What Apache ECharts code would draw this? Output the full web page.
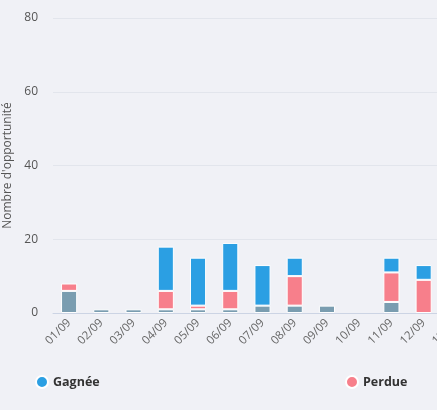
<!DOCTYPE html>
<html>
<head>
<meta charset="utf-8">
<script src="https://cdn.jsdelivr.net/npm/echarts@6/dist/echarts.min.js"></script>
<style>
html,body{margin:0;padding:0;background:#f0f1f6;}
#main{width:437px;height:410px;}
</style>
</head>
<body>
<div id="main"></div>
<script>
var days=["01/09","02/09","03/09","04/09","05/09","06/09","07/09","08/09","09/09","10/09","11/09","12/09","13/09"];
var enCours=[6,1,1,1,1,1,2,2,2,0,3,0,0];
var perdue=[2,0,0,5,1,5,0,8,0,0,8,9,0];
var gagnee=[0,0,0,12,13,13,11,5,0,0,4,4,0];

// hide empty segments so no stroke shows
function clean(arr){
    return arr.map(function(v){return v>0?v:null;});
}

var myChart=echarts.init(document.getElementById('main'));

var font="'Open Sans', 'Noto Sans', sans-serif";

var option={
    backgroundColor:"#f0f1f6",
    textStyle:{fontFamily:font},
    grid:{left:53,top:18,bottom:97,width:419,outerBoundsMode:"none",containLabel:false},
    legend:[{
        data:["Gagnée"],
        left:30,top:370,
        icon:"circle",itemWidth:12,itemHeight:12,
        textStyle:{color:"#333",fontWeight:"bold",fontSize:12.5,fontFamily:font}
    },{
        data:["Perdue"],
        left:340,top:370,
        icon:"circle",itemWidth:12,itemHeight:12,
        textStyle:{color:"#333",fontWeight:"bold",fontSize:12.5,fontFamily:font}
    }],
    xAxis:{
        type:"category",
        data:days,
        axisLine:{lineStyle:{color:"#ccd4e4"}},
        axisTick:{length:6,lineStyle:{color:"#ccd4e4"}},
        axisLabel:{rotate:45,color:"#666",fontSize:11.5,interval:0,margin:8}
    },
    yAxis:{
        type:"value",
        min:0,max:80,interval:20,
        name:"Nombre d'opportunité",
        nameLocation:"middle",
        nameGap:34,
        nameTextStyle:{color:"#555",fontSize:12},
        axisLine:{show:false},
        axisTick:{show:false},
        axisLabel:{color:"#555",fontSize:12,margin:15},
        splitLine:{lineStyle:{color:"#e2e5ec"}}
    },
    series:[{
        name:"En cours",
        type:"bar",
        stack:"total",
        barWidth:"50%",
        data:clean(enCours),
        itemStyle:{color:"#7a9db0",borderColor:"#fff",borderWidth:1}
    },{
        name:"Perdue",
        type:"bar",
        stack:"total",
        data:clean(perdue),
        itemStyle:{color:"#f77f8b",borderColor:"#fff",borderWidth:1}
    },{
        name:"Gagnée",
        type:"bar",
        stack:"total",
        data:clean(gagnee),
        itemStyle:{color:"#2b9fe3",borderColor:"#fff",borderWidth:1}
    }]
};

myChart.setOption(option);
</script>
</body>
</html>
